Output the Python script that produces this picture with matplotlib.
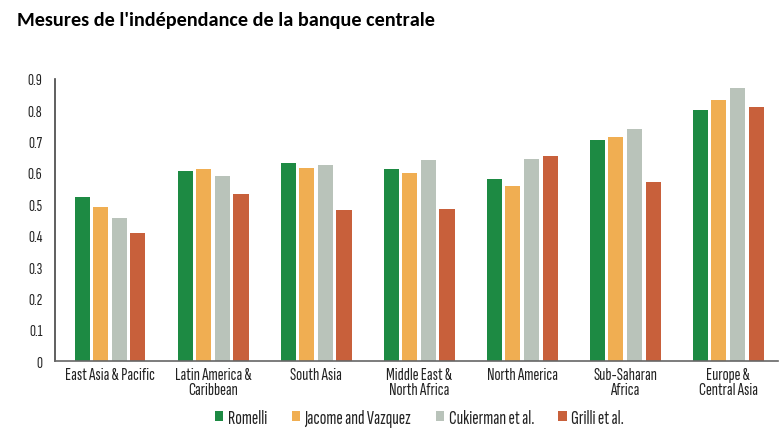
import numpy as np
import matplotlib.pyplot as plt

regions = ['East Asia & Pacific', 'Latin America &\nCaribbean', 'South Asia',
           'Middle East &\nNorth Africa', 'North America', 'Sub-Saharan\nAfrica',
           'Europe &\nCentral Asia']
romelli = [0.522, 0.605, 0.631, 0.614, 0.582, 0.704, 0.801]
jacome = [0.493, 0.614, 0.617, 0.599, 0.559, 0.716, 0.834]
cukierman = [0.456, 0.589, 0.625, 0.643, 0.646, 0.741, 0.870]
grilli = [0.409, 0.533, 0.481, 0.484, 0.654, 0.570, 0.811]

series = [('Romelli', romelli, '#1d8a43'),
          ('Jacome and Vazquez', jacome, '#f0ae52'),
          ('Cukierman et al.', cukierman, '#b9c3ba'),
          ('Grilli et al.', grilli, '#c8603b')]

narrow = ['Sofia Sans Extra Condensed', 'DejaVu Sans']

fig = plt.figure(figsize=(7.8, 4.39), dpi=100)
ax = fig.add_axes([0.0705, 0.175, 0.927, 0.643])

x = np.arange(len(regions))
w = 0.146
step = 0.181
for i, (name, vals, col) in enumerate(series):
    ax.bar(x + (i - 1.5) * step, vals, w, color=col, label=name)

ax.set_ylim(0, 0.9)
ax.set_xlim(-0.534, 6.485)
ax.set_yticks(np.arange(0, 0.91, 0.1))
ax.set_yticklabels(['0'] + ['%.1f' % v for v in np.arange(0.1, 0.91, 0.1)])
ax.set_xticks(x)
ax.set_xticklabels(regions)
ax.tick_params(length=0, colors='#222222')
ax.tick_params(axis='y', pad=9, labelsize=12)
ax.tick_params(axis='x', pad=4, labelsize=13)
for lab in ax.get_xticklabels() + ax.get_yticklabels():
    lab.set_family(narrow)
    lab.set_linespacing(1.0)
for s in ['top', 'right']:
    ax.spines[s].set_visible(False)
ax.spines['left'].set_color('#444444')
ax.spines['bottom'].set_color('#666666')
ax.spines['left'].set_linewidth(1.2)
ax.spines['bottom'].set_linewidth(1.2)

leg = fig.legend(loc='center', bbox_to_anchor=(0.538, 0.045), ncol=4, frameon=False,
                 handlelength=0.42, handleheight=0.42, handletextpad=0.25, columnspacing=1.25,
                 prop={'family': narrow, 'size': 14}, labelcolor='#222222')

fig.text(0.022, 0.953, "Mesures de l'indépendance de la banque centrale",
         fontsize=14.6, fontweight='bold', family=['Carlito', 'DejaVu Sans'],
         va='center', ha='left')

fig.savefig('out.png', dpi=100)
